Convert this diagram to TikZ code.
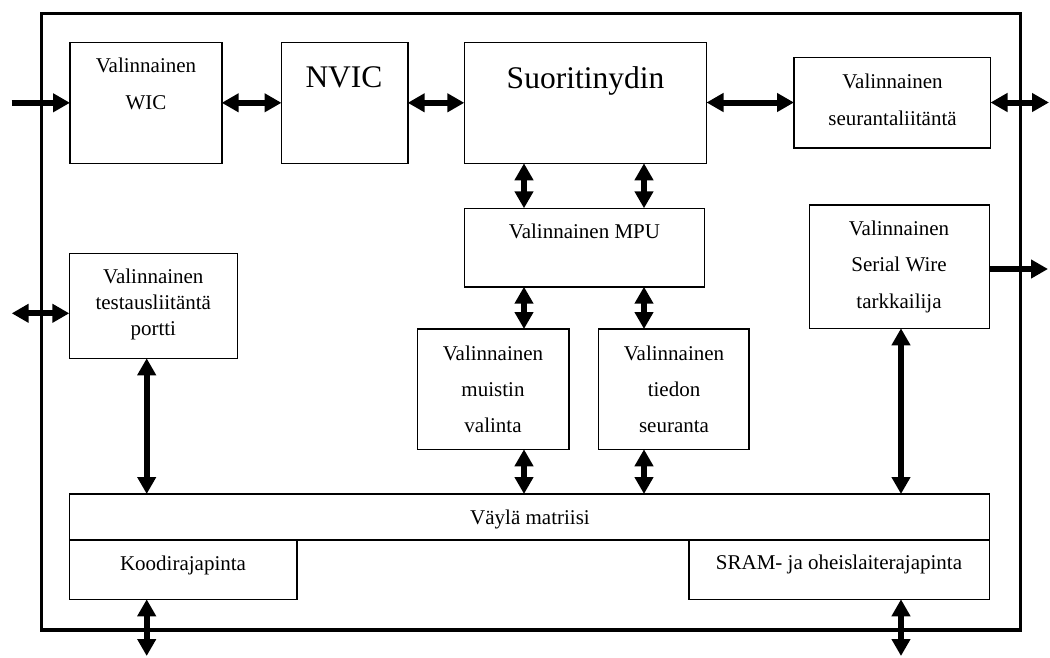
\documentclass[tikz,border=0pt]{standalone}
\usepackage{fontspec}
\setmainfont{Liberation Serif}
\usetikzlibrary{arrows.meta}

\begin{document}
\begin{tikzpicture}[x=1pt, y=-1pt,
  block/.style={draw, line width=1.6pt, inner sep=0pt, outer sep=0pt, anchor=north west},
  chip/.style={draw, line width=3.6pt, inner sep=0pt, outer sep=0pt, anchor=north west},
  txt/.style={inner sep=0pt, outer sep=0pt, anchor=north, align=center,
              font=\fontsize{21}{36.7}\selectfont},
  bigtxt/.style={inner sep=0pt, outer sep=0pt, anchor=north, align=center,
              font=\fontsize{31.5}{38}\selectfont},
  link/.style={line width=6pt, -{Triangle[length=17pt, width=18pt]}},
  bilink/.style={line width=6pt, {Triangle[length=17pt, width=18pt]}-{Triangle[length=17pt, width=18pt]}}
]
\useasboundingbox (0,0) rectangle (1050,657);

% processor boundary
\node[chip, minimum width=979pt, minimum height=616.5pt] (chip) at (41.5,13.5) {};

% blocks
\node[block, minimum width=151.7pt, minimum height=121pt] (wic)   at (70,42.3) {};
\node[block, minimum width=126.2pt, minimum height=121pt] (nvic)  at (281.5,42.3) {};
\node[block, minimum width=242.2pt, minimum height=121pt] (core)  at (464.3,42.3) {};
\node[block, minimum width=196.5pt, minimum height=90.4pt] (trace) at (794,57.3) {};
\node[block, minimum width=240.2pt, minimum height=78.4pt] (mpu)   at (464.3,208.3) {};
\node[block, minimum width=168pt,   minimum height=105pt] (jtag)  at (69.3,253.3) {};
\node[block, minimum width=151.7pt, minimum height=120.3pt] (mem)  at (417.3,329) {};
\node[block, minimum width=150.5pt, minimum height=120.3pt] (dwt)  at (598.5,329) {};
\node[block, minimum width=180pt,   minimum height=123.3pt] (swo)  at (809.3,205) {};
\node[block, minimum width=920pt,   minimum height=46pt]    (bus)  at (69.3,494) {};
\node[block, minimum width=227.4pt, minimum height=59.3pt]  (code) at (69.3,540) {};
\node[block, minimum width=300.3pt, minimum height=59.3pt]  (sram) at (689,540) {};

% labels
\node[txt]    (wicT)   at (146,58.4)   {Valinnainen\\WIC};
\node[bigtxt] (nvicT)  at (344,67)     {NVIC};
\node[bigtxt] (coreT)  at (585.5,66.5) {Suoritinydin};
\node[txt]    (traceT) at (892.5,74)   {Valinnainen\\seurantaliitäntä};
\node[txt]    (mpuT)   at (584.5,223.7) {Valinnainen MPU};
\node[txt, font=\fontsize{21}{26}\selectfont] (jtagT) at (153.3,269) {Valinnainen\\testausliitäntä\\portti};
\node[txt, font=\fontsize{21}{36}\selectfont] (memT)  at (493,345.7) {Valinnainen\\muistin\\valinta};
\node[txt, font=\fontsize{21}{36}\selectfont] (dwtT)  at (674,345.7) {Valinnainen\\tiedon\\seuranta};
\node[txt]    (swoT)   at (899,220.7)  {Valinnainen\\Serial Wire\\tarkkailija};
\node[txt]    (busT)   at (530,510.2)  {Väylä matriisi};
\node[txt]    (codeT)  at (183,555.7)  {Koodirajapinta};
\node[txt]    (sramT)  at (839,554.7)  {SRAM- ja oheislaiterajapinta};

% columns of the vertical links and free ends of the outer links
\coordinate (colA) at (524,0);
\coordinate (colB) at (644,0);
\coordinate (colJ) at (146.7,0);
\coordinate (colS) at (901,0);
\coordinate (wicIn)    at (11.7,102.8);
\coordinate (traceOut) at (1049,102.5);
\coordinate (jtagOut)  at (11.7,313.3);
\coordinate (swoOut)   at (1048,269);
\coordinate (codeOut)  at (146.7,656);
\coordinate (sramOut)  at (901,656);

% horizontal links
\draw[link]   (wicIn) -- (wic.west);
\draw[bilink] (wic.east) -- (nvic.west);
\draw[bilink] (nvic.east) -- (core.west);
\draw[bilink] (core.east |- trace.west) -- (trace.west);
\draw[bilink] (trace.east) -- (traceOut);
\draw[bilink] (jtagOut -| jtag.west) -- (jtagOut);
\draw[link]   (swoOut -| swo.east) -- (swoOut);

% vertical links
\draw[bilink] (colA |- core.south) -- (colA |- mpu.north);
\draw[bilink] (colB |- core.south) -- (colB |- mpu.north);
\draw[bilink] (colA |- mpu.south) -- (colA |- mem.north);
\draw[bilink] (colB |- mpu.south) -- (colB |- dwt.north);
\draw[bilink] (colA |- mem.south) -- (colA |- bus.north);
\draw[bilink] (colB |- dwt.south) -- (colB |- bus.north);
\draw[bilink] (colJ |- jtag.south) -- (colJ |- bus.north);
\draw[bilink] (colS |- swo.south) -- (colS |- bus.north);
\draw[bilink] (code.south -| colJ) -- (codeOut);
\draw[bilink] (sram.south -| colS) -- (sramOut);
\end{tikzpicture}
\end{document}
